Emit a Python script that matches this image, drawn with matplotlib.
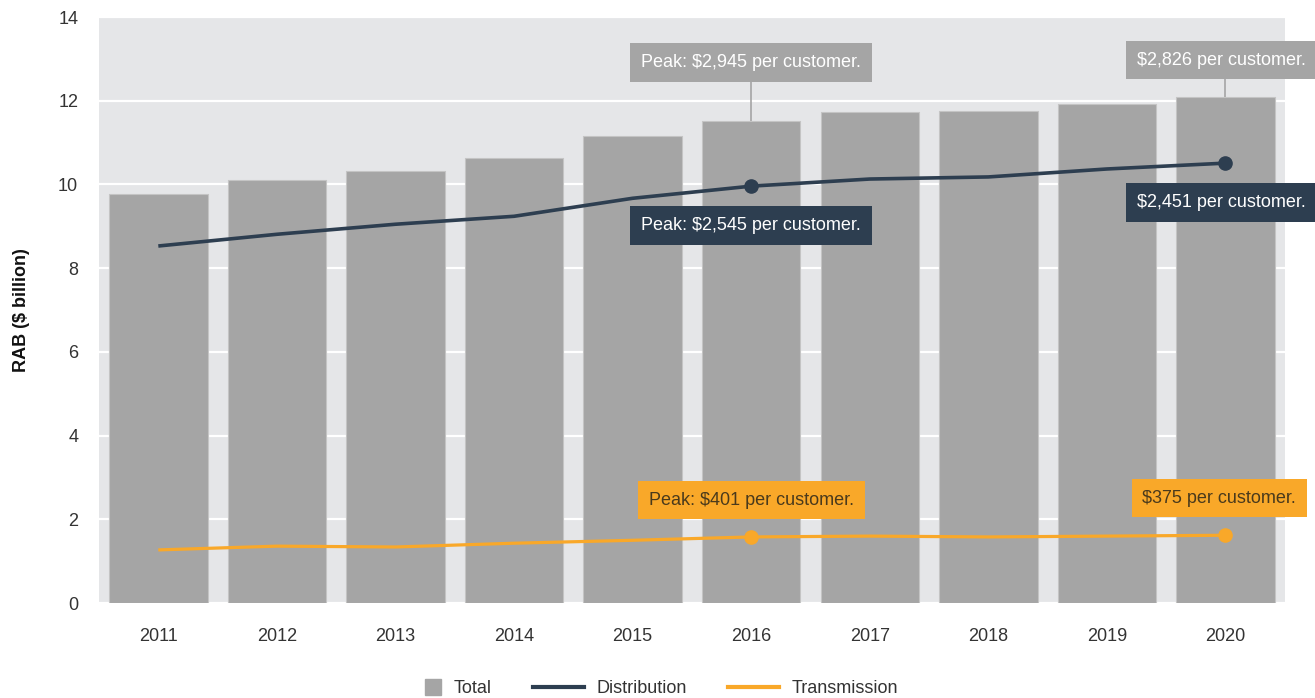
import matplotlib.pyplot as plt
from matplotlib.lines import Line2D
from matplotlib.patches import Patch, Rectangle
from matplotlib.legend_handler import HandlerPatch

plt.rcParams['font.family'] = ['Liberation Sans', 'DejaVu Sans']

years = ['2011', '2012', '2013', '2014', '2015', '2016', '2017', '2018', '2019', '2020']
total = [9.77, 10.10, 10.32, 10.63, 11.16, 11.51, 11.73, 11.75, 11.92, 12.09]
distribution = [8.53, 8.81, 9.05, 9.24, 9.67, 9.96, 10.13, 10.18, 10.37, 10.51]
transmission = [1.27, 1.36, 1.34, 1.43, 1.50, 1.58, 1.60, 1.58, 1.60, 1.62]

# подписи: (индекс года, текст, высота подписи)
total_notes = [(5, 'Peak: $2,945 per customer.', 12.92), (9, '$2,826 per customer.', 12.97)]
dist_notes = [(5, 'Peak: $2,545 per customer.', 9.02), (9, '$2,451 per customer.', 9.57)]
trans_notes = [(5, 'Peak: $401 per customer.', 2.46), (9, '$375 per customer.', 2.51)]

c_bar = '#a5a5a5'
c_dist = '#2d3e50'
c_trans = '#f9a829'
c_bg = '#e5e6e8'
fs = 13

fig = plt.figure(figsize=(13.15, 6.98), dpi=100)
ax = fig.add_axes([0.0753, 0.136, 0.9017, 0.8396])
ax.set_facecolor(c_bg)

x = list(range(len(years)))
ax.bar(x, total, width=0.83, color=c_bar, edgecolor='#c4c4c4', linewidth=0.8, zorder=2)
ax.plot(x, distribution, color=c_dist, lw=2.6, marker='o', markersize=9.5,
        markevery=[5, 9], zorder=4, solid_capstyle='butt')
ax.plot(x, transmission, color=c_trans, lw=2.3, marker='o', markersize=9.5,
        markevery=[5, 9], zorder=4, solid_capstyle='butt')

ax.set_xlim(-0.5, 9.5)
ax.set_ylim(0, 14)
ax.set_yticks(range(0, 15, 2))
ax.set_xticks(x)
ax.set_xticklabels(years)
ax.grid(axis='y', color='white', lw=1.6, zorder=1)
ax.set_axisbelow(True)
for s in ax.spines.values():
    s.set_visible(False)
ax.tick_params(length=0, labelsize=fs, colors='#333333')
ax.tick_params(axis='x', pad=18)
ax.tick_params(axis='y', pad=15)
ax.set_ylabel('RAB ($ billion)', fontsize=fs, fontweight='bold', labelpad=20, color='#111111')


def note(i, text, y_text, fc, tc, shift=0.744):
    # последний год — подпись прижата вправо и уходит за край
    if i < 9:
        ax.text(i, y_text, text, ha='center', va='center', fontsize=fs, color=tc,
                bbox=dict(boxstyle='square,pad=0.6', fc=fc, ec='none'), zorder=6)
    else:
        ax.text(i - shift, y_text, text, ha='left', va='center', fontsize=fs, color=tc,
                bbox=dict(boxstyle='square,pad=0.6', fc=fc, ec='none'), zorder=6,
                clip_on=False)


for i, t, yt in total_notes:
    ax.vlines(i, total[i], yt - 0.3, color='#a5a5a5', lw=1.2, zorder=3)
    note(i, t, yt, c_bar, 'white')
for i, t, yt in dist_notes:
    note(i, t, yt, c_dist, 'white')
for i, t, yt in trans_notes:
    note(i, t, yt, c_trans, '#4a3a1c', shift=0.70)


def square_patch(legend, orig_handle, xdescent, ydescent, width, height, fontsize):
    s = fontsize * 0.9
    return Rectangle((width - s - xdescent, (height - s) / 2 - ydescent), s, s)


handles = [Patch(color=c_bar, label='Total'),
           Line2D([], [], color=c_dist, lw=3, label='Distribution'),
           Line2D([], [], color=c_trans, lw=3, label='Transmission')]
fig.legend(handles=handles, loc='center', bbox_to_anchor=(0.490, 0.013), ncol=3,
           frameon=False, fontsize=fs, handlelength=2.8, columnspacing=2.3,
           handletextpad=0.7, labelcolor='#333333',
           handler_map={Patch: HandlerPatch(patch_func=square_patch)})

fig.savefig('out.png', dpi=100)
